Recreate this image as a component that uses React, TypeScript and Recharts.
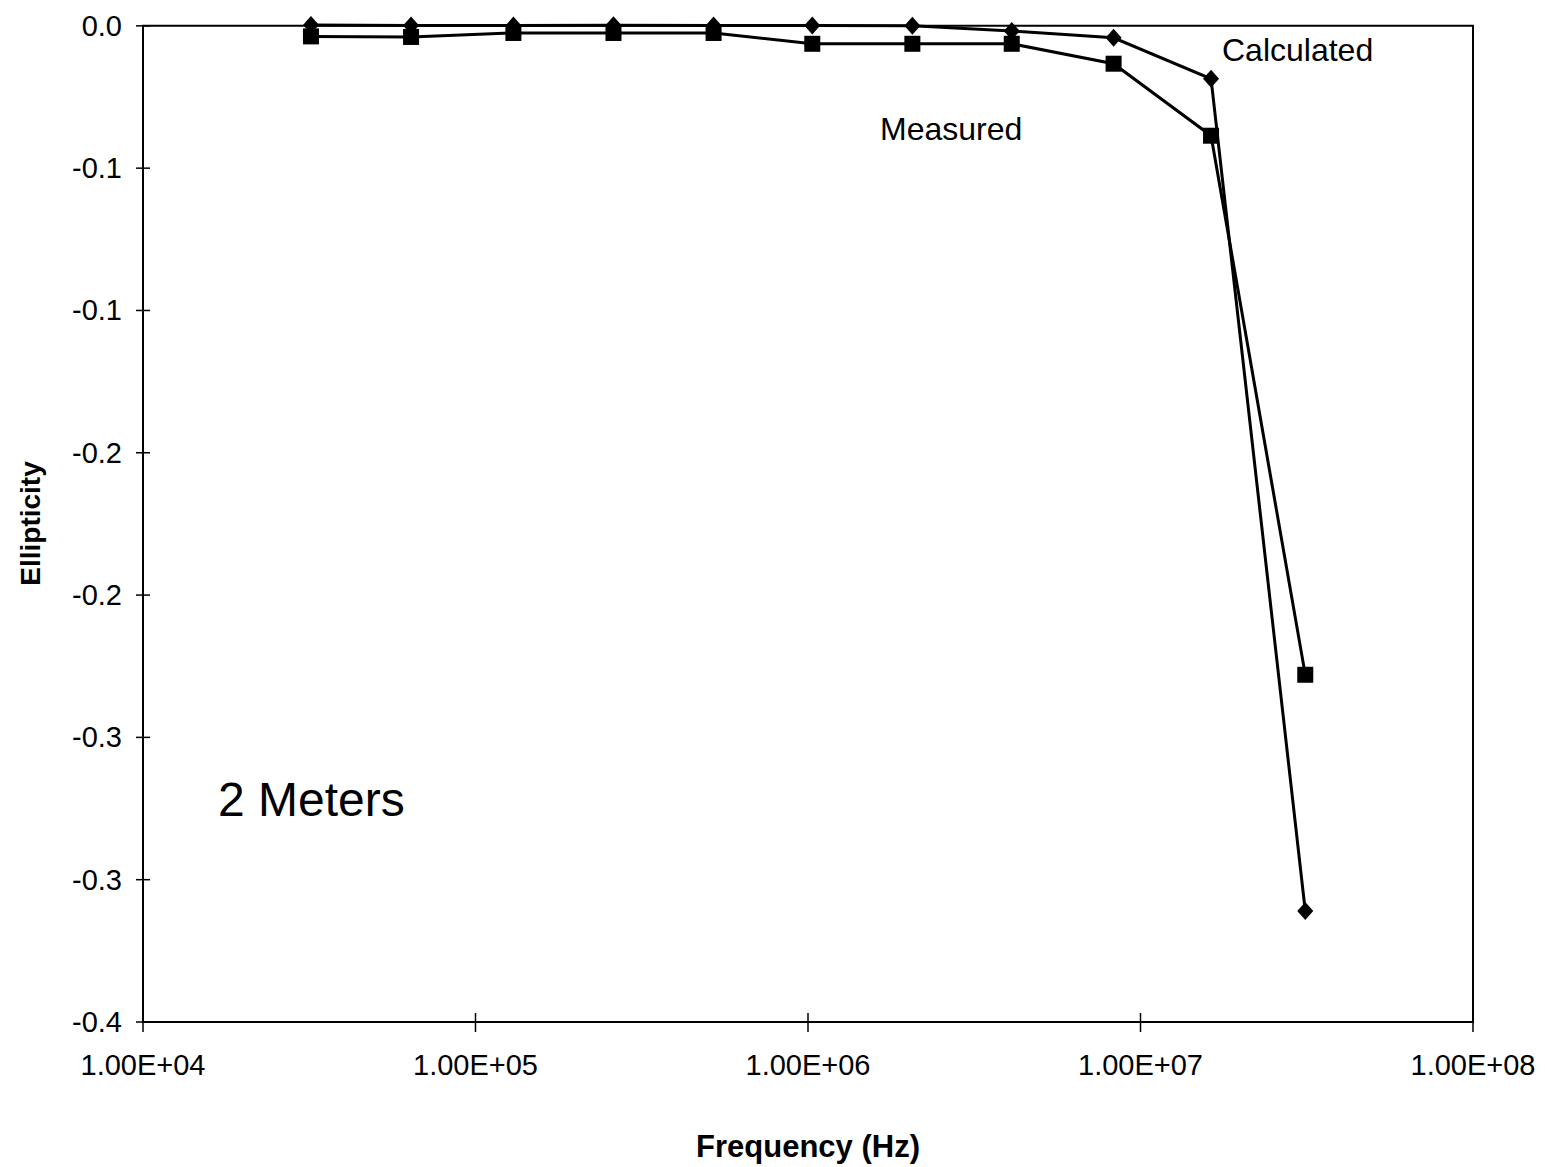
import React from 'react';
import { LineChart, Line, XAxis, YAxis, ReferenceArea } from 'recharts';

const FREQUENCIES = [3.2e4, 6.4e4, 1.3e5, 2.6e5, 5.2e5, 1.03e6, 2.06e6, 4.1e6, 8.3e6, 1.63e7, 3.13e7];
const CALCULATED = [0.0003, 0.0001, 0.0001, 0.0002, 0.0001, 0.0001, 0.0, -0.0018, -0.0042, -0.0186, -0.311];
const MEASURED = [-0.0037, -0.0039, -0.0025, -0.0025, -0.0025, -0.0063, -0.0063, -0.0063, -0.0133, -0.0386, -0.228];

const X_TICKS = [1e4, 1e5, 1e6, 1e7, 1e8];
const X_TICK_LABELS = ['1.00E+04', '1.00E+05', '1.00E+06', '1.00E+07', '1.00E+08'];
const Y_TICKS = [0, -0.05, -0.1, -0.15, -0.2, -0.25, -0.3, -0.35];
const Y_TICK_LABELS = ['0.0', '-0.1', '-0.1', '-0.2', '-0.2', '-0.3', '-0.3', '-0.4'];

const data = FREQUENCIES.map((f, i) => ({ freq: f, calc: CALCULATED[i], meas: MEASURED[i] }));

const FONT = '"Liberation Sans", Arial, Helvetica, sans-serif';

function XTick({ x, y, index }: any) {
    return (
        <g>
            <line x1={x} x2={x} y1={y - 9} y2={y + 10} stroke="#000" strokeWidth={1.5} />
            <text x={x} y={y + 53} textAnchor="middle" fontSize={29} fontFamily={FONT} fill="#000">
                {X_TICK_LABELS[index]}
            </text>
        </g>
    );
}

function YTick({ x, y, index }: any) {
    return (
        <g>
            <line x1={x - 7} x2={x + 7} y1={y} y2={y} stroke="#000" strokeWidth={1.5} />
            <text x={x - 21} y={y + 10} textAnchor="end" fontSize={29} fontFamily={FONT} fill="#000">
                {Y_TICK_LABELS[index]}
            </text>
        </g>
    );
}

function Diamond({ cx, cy }: any) {
    if (cx == null || cy == null) return null;
    return <polygon points={`${cx},${cy - 9} ${cx + 8},${cy} ${cx},${cy + 9} ${cx - 8},${cy}`} fill="#000" />;
}

function Square({ cx, cy }: any) {
    if (cx == null || cy == null) return null;
    return <rect x={cx - 8} y={cy - 8} width={16} height={16} fill="#000" />;
}

export default function App() {
    return (
        <div style={{ position: 'absolute', left: 0, top: 0, width: 1545, height: 1167, background: '#fff' }}>
            <LineChart
                width={1545}
                height={1167}
                data={data}
                margin={{ top: 25, right: 72, left: 0, bottom: 0 }}
            >
                <ReferenceArea x1={1e4} x2={1e8} y1={-0.35} y2={0} fill="none" stroke="#000" strokeWidth={2} />
                <XAxis
                    dataKey="freq"
                    type="number"
                    scale="log"
                    domain={[1e4, 1e8]}
                    ticks={X_TICKS}
                    height={145}
                    tickSize={0}
                    tickMargin={0}
                    tickLine={false}
                    axisLine={{ stroke: '#000', strokeWidth: 2 }}
                    tick={<XTick />}
                    interval={0}
                    label={{
                        value: 'Frequency (Hz)',
                        position: 'insideBottom',
                        offset: 10,
                        fontSize: 31,
                        fontWeight: 'bold',
                        fontFamily: FONT,
                        fill: '#000',
                    }}
                />
                <YAxis
                    type="number"
                    domain={[-0.35, 0]}
                    ticks={Y_TICKS}
                    width={143}
                    tickSize={0}
                    tickMargin={0}
                    tickLine={false}
                    axisLine={{ stroke: '#000', strokeWidth: 2 }}
                    tick={<YTick />}
                    interval={0}
                    label={{
                        value: 'Ellipticity',
                        angle: -90,
                        position: 'insideLeft',
                        offset: 30,
                        fontSize: 28,
                        fontWeight: 'bold',
                        fontFamily: FONT,
                        fill: '#000',
                        style: { textAnchor: 'middle' },
                    }}
                />
                <Line
                    dataKey="calc"
                    stroke="#000"
                    strokeWidth={3}
                    dot={<Diamond />}
                    activeDot={false}
                    isAnimationActive={false}
                />
                <Line
                    dataKey="meas"
                    stroke="#000"
                    strokeWidth={3}
                    dot={<Square />}
                    activeDot={false}
                    isAnimationActive={false}
                />
            </LineChart>
            <svg
                width={1545}
                height={1167}
                style={{ position: 'absolute', left: 0, top: 0, pointerEvents: 'none' }}
            >
                <text x={1222} y={61} fontSize={32} fontFamily={FONT} fill="#000">Calculated</text>
                <text x={880} y={140} fontSize={32} fontFamily={FONT} fill="#000">Measured</text>
                <text x={218} y={816} fontSize={48} fontFamily={FONT} fill="#000">2 Meters</text>
            </svg>
        </div>
    );
}
